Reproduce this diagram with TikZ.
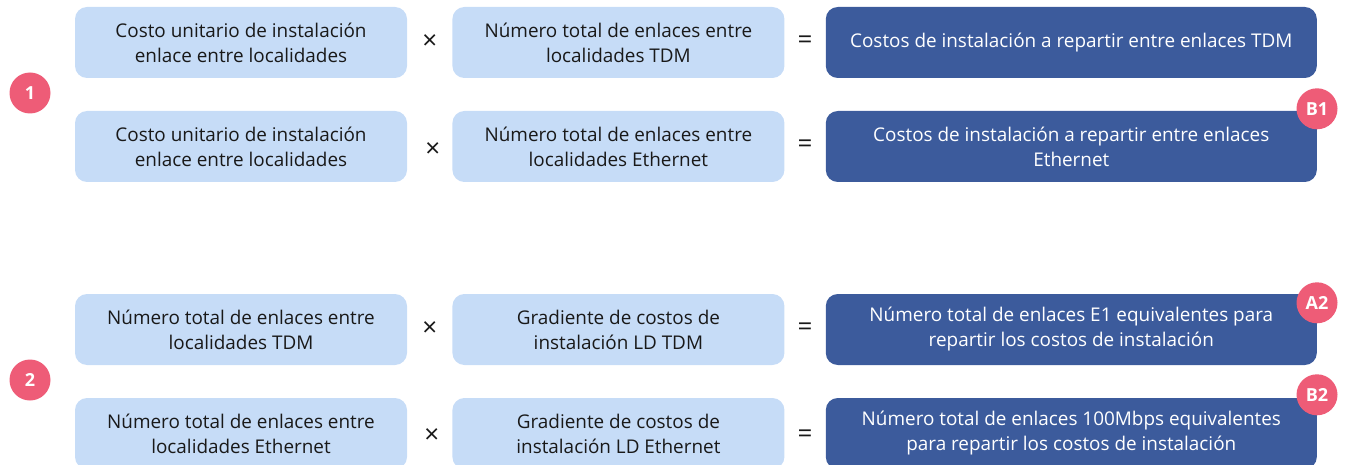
\documentclass[tikz,border=0pt]{standalone}
\usepackage{fontspec}
\setmainfont{Open Sans}
\usepackage{tikz}
\usetikzlibrary{positioning, calc}
\definecolor{lightblue}{RGB}{198, 220, 247}
\definecolor{darkblue}{RGB}{60, 91, 156}
\definecolor{badgepink}{RGB}{238, 92, 119}
\definecolor{textdark}{RGB}{25, 25, 25}

\begin{document}
\begin{tikzpicture}[
			x=1pt, y=1pt,
			factor/.style={rectangle, fill=lightblue, minimum width=332pt, minimum height=71pt, inner sep=0pt, align=center, text=textdark, font=\fontsize{18.9}{25}\selectfont, rounded corners=12pt},
			result/.style={rectangle, fill=darkblue, minimum width=491pt, minimum height=71pt, inner sep=0pt, align=center, text=white, font=\fontsize{18.9}{25}\selectfont, rounded corners=12pt},
			op/.style={inner sep=0pt, text=textdark, font=\fontsize{26}{26}\selectfont},
			badge/.style={circle, fill=badgepink, minimum size=41pt, inner sep=0pt, text=white, font=\fontsize{18}{18}\selectfont\bfseries}
		]
		\useasboundingbox (0,0) rectangle (1346,-465);
		% bloque 1
		\node[factor] (costA) at (241,-42.5) {Costo unitario de instalación\\enlace entre localidades};
		\node[factor, right=45pt of costA] (linksA) {Número total de enlaces entre\\localidades TDM};
		\node[result, right=41pt of linksA] (resA) {Costos de instalación a repartir entre enlaces TDM};
		\node[factor] (costB) at (241,-146.5) {Costo unitario de instalación\\enlace entre localidades};
		\node[factor, right=45pt of costB] (linksB) {Número total de enlaces entre\\localidades Ethernet};
		\node[result, right=41pt of linksB] (resB) {Costos de instalación a repartir entre enlaces\\Ethernet};
		% bloque 2
		\node[factor] (linksC) at (241,-329.5) {Número total de enlaces entre\\localidades TDM};
		\node[factor, right=45pt of linksC] (gradC) {Gradiente de costos de\\instalación LD TDM};
		\node[result, right=41pt of gradC] (resC) {Número total de enlaces E1 equivalentes para\\repartir los costos de instalación};
		\node[factor] (linksD) at (241,-433.5) {Número total de enlaces entre\\localidades Ethernet};
		\node[factor, right=45pt of linksD] (gradD) {Gradiente de costos de\\instalación LD Ethernet};
		\node[result, right=41pt of gradD] (resD) {Número total de enlaces 100Mbps equivalentes\\para repartir los costos de instalación};

		\node[op] (timesA) at ($(costA.east)!0.5!(linksA.west)$) {×};
		\node[op] (timesB) at ($(costB.east)!0.5!(linksB.west)+(3,-4)$) {×};
		\node[op] (timesC) at ($(linksC.east)!0.5!(gradC.west)$) {×};
		\node[op] (timesD) at ($(linksD.east)!0.5!(gradD.west)+(2,-3)$) {×};
		\node[op] (eqA) at ($(linksA.east)!0.5!(resA.west)$) {=};
		\node[op] (eqB) at ($(linksB.east)!0.5!(resB.west)$) {=};
		\node[op] (eqC) at ($(gradC.east)!0.5!(resC.west)$) {=};
		\node[op] (eqD) at ($(gradD.east)!0.5!(resD.west)+(0,-3)$) {=};

		\node[badge] (one) at (30,-93) {1};
		\node[badge] (two) at (30,-380) {2};
		\node[badge] (bOne) at ($(resB.north east)+(0,2)$) {B1};
		\node[badge] (aTwo) at ($(resC.north east)+(0,-9)$) {A2};
		\node[badge] (bTwo) at ($(resD.north east)+(0,3)$) {B2};
		\end{tikzpicture}
\end{document}
